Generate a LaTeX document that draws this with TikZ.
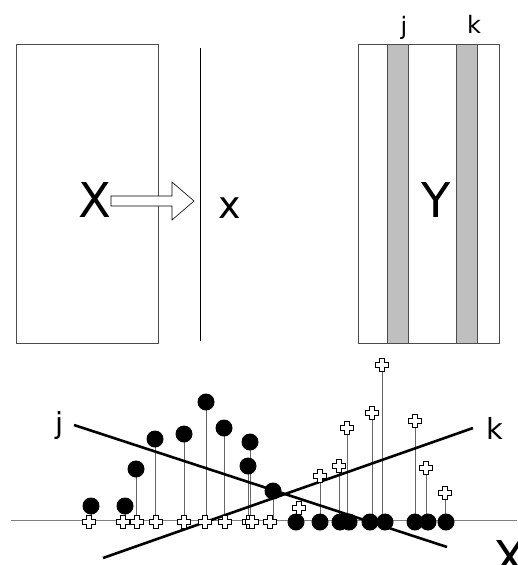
\documentclass[tikz,border=0pt]{standalone}
\usepackage{fontspec}
\setmainfont{DejaVu Sans}
\begin{document}
\begin{tikzpicture}[x=1pt,y=-1pt,
  box/.style={draw=black!70, line width=0.8pt},
  stripe/.style={fill=black!25, draw=black!70, line width=0.8pt},
  axisline/.style={draw=black!50, line width=0.8pt},
  stem/.style={draw=black!60, line width=0.7pt},
  fitline/.style={draw=black, line width=2.6pt},
  dot/.style={circle, fill=black, minimum size=17pt, inner sep=0pt},
  lbl/.style={inner sep=0pt, anchor=center},
  plusmark/.pic={\draw[fill=white, draw=black, line width=0.6pt]
     (-2.3,-6.3) -- (2.3,-6.3) -- (2.3,-2.3) -- (6.3,-2.3) -- (6.3,2.3) -- (2.3,2.3)
     -- (2.3,6.3) -- (-2.3,6.3) -- (-2.3,2.3) -- (-6.3,2.3) -- (-6.3,-2.3) -- (-2.3,-2.3) -- cycle;}
]
\useasboundingbox (0,0) rectangle (517,565);

% ---- top left: matrix X and vector x
\draw[box] (16,44) rectangle (158,343);
\draw[draw=black, line width=0.8pt] (200,48) -- (200,341);
\draw[fill=white, draw=black, line width=0.6pt]
  (111,196) -- (172,196) -- (172,182) -- (194,201) -- (172,220) -- (172,206) -- (111,206) -- cycle;
\node[lbl, font=\fontsize{48}{48}\selectfont] (X) at (95,200.5) {X};
\node[lbl, font=\fontsize{38}{38}\selectfont] (x) at (229.5,208) {x};

% ---- top right: matrix Y
\draw[box] (358,44) rectangle (499,343);
\draw[stripe] (387.3,44) rectangle (408.3,343);
\draw[stripe] (456.7,44) rectangle (477.7,343);
\node[lbl, font=\fontsize{48}{48}\selectfont] (Y) at (436,200.5) {Y};
\node[lbl, font=\fontsize{24}{24}\selectfont] (jt) at (404,28) {j};
\node[lbl, font=\fontsize{24}{24}\selectfont] (kt) at (474,24) {k};

% ---- bottom: projections
\coordinate (a0) at (11,520);
\coordinate (a1) at (517,520);
\draw[axisline] (a0) -- (a1);

% left group: dots above, plus on axis
\foreach \i/\dx/\dy/\px in {1/91/506/89, 2/125/506/123, 3/136/469/137, 4/155/439/156,
    5/184/434/184, 6/206/402/205, 7/224/428/225, 8/250/442/249, 9/248/466/252, 10/273/491/270}{
  \coordinate (d\i) at (\dx,\dy);
  \coordinate (p\i) at (\px,522);
  \draw[stem] (d\i) -- (d\i |- p\i);
}
% right group: dots on axis, plus above
\foreach \i/\dx/\px/\py in {1/296/299/508, 2/320/320/476, 3/340/339/466, 4/349/347/428,
    5/370/372/413, 6/385/382/365, 7/415/415/421, 8/428/426/468, 9/446/445/493}{
  \coordinate (e\i) at (\dx,522);
  \coordinate (q\i) at (\px,\py);
  \draw[stem] (q\i) -- (q\i |- e\i);
}

% fitted lines
\coordinate (j0) at (74,425);
\coordinate (j1) at (447,547);
\coordinate (k0) at (103,558);
\coordinate (k1) at (473,428);
\draw[fitline] (j0) -- (j1);
\draw[fitline] (k0) -- (k1);

% markers
\foreach \i in {1,...,10}{
  \node[dot] (D\i) at (d\i) {};
  \pic at (p\i) {plusmark};
}
\foreach \i in {1,...,9}{
  \node[dot] (E\i) at (e\i) {};
  \pic at (q\i) {plusmark};
}

\node[lbl, font=\fontsize{29}{29}\selectfont] (jb) at (60,425.5) {j};
\node[lbl, font=\fontsize{29}{29}\selectfont] (kb) at (495,428) {k};
\node[lbl, font=\fontsize{48}{48}\selectfont] (Xb) at (510,558) {X};
\end{tikzpicture}
\end{document}
